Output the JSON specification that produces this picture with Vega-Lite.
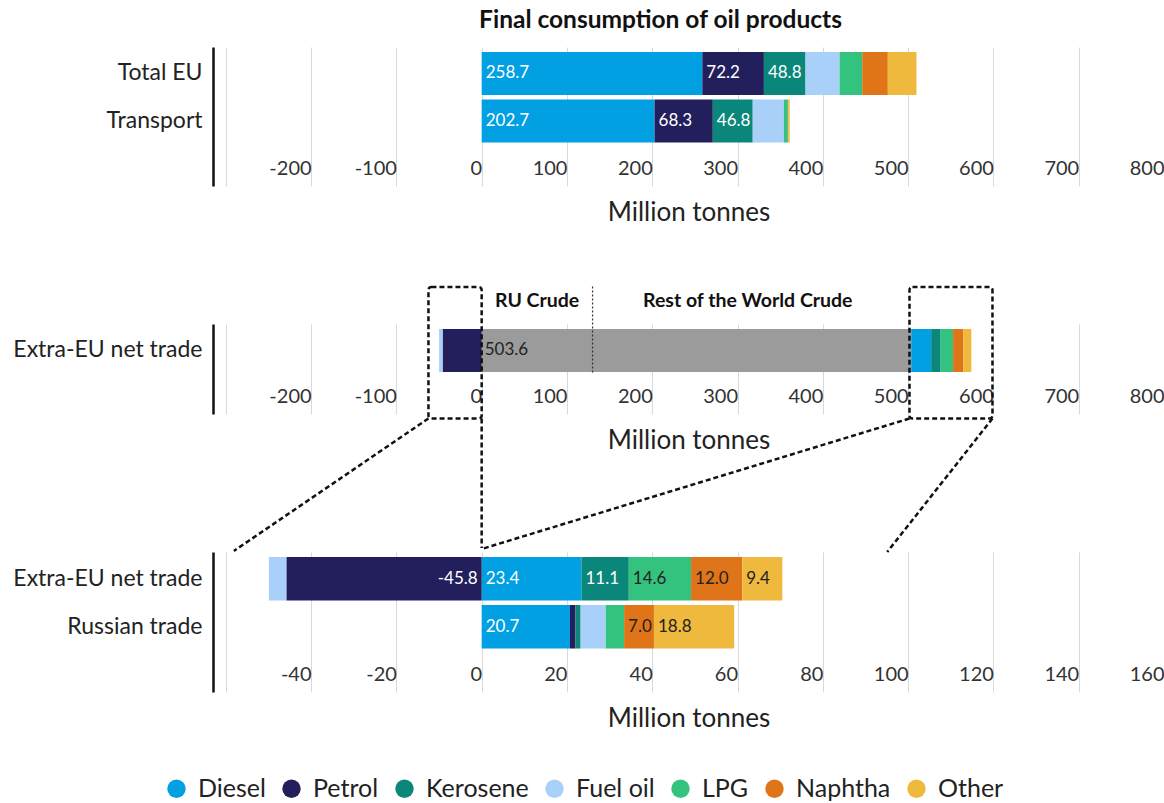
{
  "$schema": "https://vega.github.io/schema/vega-lite/v6.json",
  "autosize": {"type": "pad"},
  "padding": {"left": 12, "top": 7, "right": 0, "bottom": 0},
  "background": "white",
  "bounds": "flush",
  "spacing": 138,
  "config": {
    "font": "Lato",
    "locale": {"number": {"decimal": ".", "thousands": ",", "grouping": [3], "currency": ["$", ""], "minus": "-"}},
    "view": {"stroke": null},
    "axisX": {
      "grid": true, "gridColor": "#d9d9d9", "gridWidth": 1,
      "domain": false, "ticks": false, "tickSize": 0,
      "labelFontSize": 20, "labelColor": "#333", "labelAlign": "right", "labelBaseline": "middle",
      "labelDx": -7, "labelPadding": -18, "labelFlush": false, "labelOverlap": false, "labelBound": false,
      "titleFontSize": 26, "titleFontWeight": "normal", "titleColor": "#222", "titlePadding": 13
    },
    "axisY": {
      "domain": true, "domainColor": "#111", "domainWidth": 2.5, "ticks": false, "grid": false,
      "labelFontSize": 23, "labelColor": "#222", "labelPadding": 11, "labelLimit": 400, "title": null
    },
    "legend": {
      "symbolType": "circle", "symbolSize": 340, "symbolStrokeWidth": 0, "symbolOpacity": 1,
      "labelFontSize": 25, "labelColor": "#222", "labelOffset": 9, "columnPadding": 13
    }
  },
  "datasets": {
    "cons": [
      {"category": "Total EU", "product": "Diesel", "order": 1, "value": 258.7},
      {"category": "Total EU", "product": "Petrol", "order": 2, "value": 72.2},
      {"category": "Total EU", "product": "Kerosene", "order": 3, "value": 48.8},
      {"category": "Total EU", "product": "Fuel oil", "order": 4, "value": 39.9},
      {"category": "Total EU", "product": "LPG", "order": 5, "value": 26.6},
      {"category": "Total EU", "product": "Naphtha", "order": 6, "value": 30.0},
      {"category": "Total EU", "product": "Other", "order": 7, "value": 33.6},
      {"category": "Transport", "product": "Diesel", "order": 1, "value": 202.7},
      {"category": "Transport", "product": "Petrol", "order": 2, "value": 68.3},
      {"category": "Transport", "product": "Kerosene", "order": 3, "value": 46.8},
      {"category": "Transport", "product": "Fuel oil", "order": 4, "value": 36.5},
      {"category": "Transport", "product": "LPG", "order": 5, "value": 4.7},
      {"category": "Transport", "product": "Naphtha", "order": 6, "value": 0.6},
      {"category": "Transport", "product": "Other", "order": 7, "value": 1.6}
    ],
    "trade": [
      {"category": "Extra-EU net trade", "product": "Crude", "order": 0, "value": 503.6},
      {"category": "Extra-EU net trade", "product": "Diesel", "order": 1, "value": 23.4},
      {"category": "Extra-EU net trade", "product": "Petrol", "order": 2, "value": -45.8},
      {"category": "Extra-EU net trade", "product": "Kerosene", "order": 3, "value": 11.1},
      {"category": "Extra-EU net trade", "product": "Fuel oil", "order": 4, "value": -4.1},
      {"category": "Extra-EU net trade", "product": "LPG", "order": 5, "value": 14.6},
      {"category": "Extra-EU net trade", "product": "Naphtha", "order": 6, "value": 12.0},
      {"category": "Extra-EU net trade", "product": "Other", "order": 7, "value": 9.4},
      {"category": "Russian trade", "product": "Diesel", "order": 1, "value": 20.7},
      {"category": "Russian trade", "product": "Petrol", "order": 2, "value": 1.3},
      {"category": "Russian trade", "product": "Kerosene", "order": 3, "value": 1.2},
      {"category": "Russian trade", "product": "Fuel oil", "order": 4, "value": 5.9},
      {"category": "Russian trade", "product": "LPG", "order": 5, "value": 4.3},
      {"category": "Russian trade", "product": "Naphtha", "order": 6, "value": 7.0},
      {"category": "Russian trade", "product": "Other", "order": 7, "value": 18.8}
    ],
    "boxes": [
      {"x": -62.4, "x2": 0, "y": -0.05, "y2": 1.411},
      {"x": 501.6, "x2": 598.9, "y": -0.05, "y2": 1.411}
    ],
    "links": [
      {"x": -62.4, "x2": -290.5, "y": -0.05, "y2": -1.522},
      {"x": 0, "x2": 0, "y": -0.05, "y2": -1.489},
      {"x": 501.6, "x2": 0, "y": -0.05, "y2": -1.5},
      {"x": 598.9, "x2": 475.5, "y": -0.05, "y2": -1.533}
    ],
    "divider": [
      {"x": 130, "y": 0.461, "y2": 1.422}
    ],
    "crudeLabels": [
      {"x": 65, "y": 1.256, "text": "RU Crude"},
      {"x": 312, "y": 1.256, "text": "Rest of the World Crude"}
    ]
  },
  "vconcat": [
    {
      "width": 951, "height": 139,
      "title": {"text": "Final consumption of oil products", "fontSize": 24.5, "fontWeight": "bold", "color": "#111", "anchor": "middle", "dx": -28, "offset": 14},
      "data": {"name": "cons"},
      "transform": [{"stack": "value", "groupby": ["category"], "sort": [{"field": "order", "order": "ascending"}], "as": ["x0", "x1"]}],
      "encoding": {
        "y": {"field": "category", "type": "nominal", "sort": ["Total EU", "Transport"], "title": null,
              "scale": {"paddingInner": 0.095, "paddingOuter": 0.51, "align": 0.103}},
        "x": {"field": "x0", "type": "quantitative", "title": "Million tonnes",
              "scale": {"domain": [-315, 800], "nice": false, "zero": false},
              "axis": {"values": [-300, -200, -100, 0, 100, 200, 300, 400, 500, 600, 700, 800], "labelExpr": "datum.value < -250 ? '' : datum.label"}}
      },
      "layer": [
        {
          "mark": {"type": "bar"},
          "encoding": {
            "x2": {"field": "x1"},
            "color": {"field": "product", "type": "nominal",
                      "scale": {"domain": ["Diesel", "Petrol", "Kerosene", "Fuel oil", "LPG", "Naphtha", "Other", "Crude"],
                                "range": ["#00a0e3", "#231f5c", "#0a877a", "#a8d0f8", "#34c37e", "#df7419", "#eeb93c", "#9b9b9b"]},
                      "legend": {"values": ["Diesel", "Petrol", "Kerosene", "Fuel oil", "LPG", "Naphtha", "Other"], "title": null,
                                 "orient": "none", "direction": "horizontal", "columns": 7, "legendX": -49, "legendY": 729}}
          }
        },
        {
          "transform": [{"filter": "datum.value >= 45"}],
          "mark": {"type": "text", "align": "left", "baseline": "middle", "dx": 4, "fontSize": 17},
          "encoding": {
            "text": {"field": "value", "type": "quantitative", "format": ".1f"},
            "color": {"condition": {"test": "indexof(['Diesel','Petrol','Kerosene'], datum.product) >= 0", "value": "white"}, "value": "#222"}
          }
        }
      ]
    },
    {
      "width": 951, "height": 90,
      "layer": [
        {
          "data": {"name": "trade"},
          "transform": [
            {"filter": "datum.category == 'Extra-EU net trade'"},
            {"stack": "value", "groupby": ["category"], "sort": [{"field": "order", "order": "ascending"}], "as": ["x0", "x1"]}
          ],
          "encoding": {
            "y": {"field": "category", "type": "nominal", "title": null,
                  "scale": {"paddingInner": 0, "paddingOuter": 0.5465, "align": 0.106}},
            "x": {"field": "x0", "type": "quantitative", "title": "Million tonnes",
                  "scale": {"domain": [-315, 800], "nice": false, "zero": false},
                  "axis": {"values": [-300, -200, -100, 0, 100, 200, 300, 400, 500, 600, 700, 800], "labelExpr": "datum.value < -250 ? '' : datum.label"}}
          },
          "layer": [
            {
              "mark": {"type": "bar"},
              "encoding": {
                "x2": {"field": "x1"},
                "color": {"field": "product", "type": "nominal",
                          "scale": {"domain": ["Diesel", "Petrol", "Kerosene", "Fuel oil", "LPG", "Naphtha", "Other", "Crude"],
                                    "range": ["#00a0e3", "#231f5c", "#0a877a", "#a8d0f8", "#34c37e", "#df7419", "#eeb93c", "#9b9b9b"]},
                          "legend": {"values": ["Diesel", "Petrol", "Kerosene", "Fuel oil", "LPG", "Naphtha", "Other"], "title": null,
                                     "orient": "none", "direction": "horizontal", "columns": 7, "legendX": -49, "legendY": 729}}
              }
            },
            {
              "transform": [{"filter": "datum.product == 'Crude'"}],
              "mark": {"type": "text", "align": "left", "baseline": "middle", "dx": 3, "fontSize": 17, "color": "#222"},
              "encoding": {
                "text": {"field": "value", "type": "quantitative", "format": ".1f"}
              }
            }
          ]
        },
        {
          "layer": [
            {
              "data": {"name": "divider"},
              "mark": {"type": "rule", "strokeDash": [2, 2], "strokeWidth": 1.2, "color": "#333"},
              "encoding": {
                "x": {"field": "x", "type": "quantitative", "title": "Million tonnes", "scale": {"domain": [-315, 800], "nice": false, "zero": false}},
                "y": {"field": "y", "type": "quantitative", "scale": {"domain": [0, 1], "nice": false, "zero": false}, "axis": null},
                "y2": {"field": "y2"}
              }
            },
            {
              "data": {"name": "crudeLabels"},
              "mark": {"type": "text", "align": "center", "baseline": "middle", "fontSize": 19.5, "fontWeight": "bold", "color": "#111"},
              "encoding": {
                "x": {"field": "x", "type": "quantitative", "title": "Million tonnes", "scale": {"domain": [-315, 800], "nice": false, "zero": false}},
                "y": {"field": "y", "type": "quantitative", "scale": {"domain": [0, 1], "nice": false, "zero": false}, "axis": null},
                "text": {"field": "text", "type": "nominal"}
              }
            },
            {
              "data": {"name": "boxes"},
              "mark": {"type": "rect", "fill": "transparent", "stroke": "#111", "strokeWidth": 2.5, "strokeDash": [5, 3], "cornerRadius": 3},
              "encoding": {
                "x": {"field": "x", "type": "quantitative", "title": "Million tonnes", "scale": {"domain": [-315, 800], "nice": false, "zero": false}},
                "x2": {"field": "x2"},
                "y": {"field": "y", "type": "quantitative", "scale": {"domain": [0, 1], "nice": false, "zero": false}, "axis": null},
                "y2": {"field": "y2"}
              }
            },
            {
              "data": {"name": "links"},
              "mark": {"type": "rule", "stroke": "#111", "strokeWidth": 2.5, "strokeDash": [5, 3]},
              "encoding": {
                "x": {"field": "x", "type": "quantitative", "title": "Million tonnes", "scale": {"domain": [-315, 800], "nice": false, "zero": false}},
                "x2": {"field": "x2"},
                "y": {"field": "y", "type": "quantitative", "scale": {"domain": [0, 1], "nice": false, "zero": false}, "axis": null},
                "y2": {"field": "y2"}
              }
            }
          ]
        }
      ],
      "resolve": {"scale": {"y": "independent"}, "axis": {"y": "independent"}}
    },
    {
      "width": 951, "height": 140,
      "data": {"name": "trade"},
      "transform": [
        {"filter": "datum.product != 'Crude'"},
        {"stack": "value", "groupby": ["category"], "sort": [{"field": "order", "order": "ascending"}], "as": ["x0", "x1"]}
      ],
      "encoding": {
        "y": {"field": "category", "type": "nominal", "sort": ["Extra-EU net trade", "Russian trade"], "title": null,
              "scale": {"paddingInner": 0.094, "paddingOuter": 0.505, "align": 0.103}},
        "x": {"field": "x0", "type": "quantitative", "title": "Million tonnes",
              "scale": {"domain": [-63, 160], "nice": false, "zero": false},
              "axis": {"values": [-60, -40, -20, 0, 20, 40, 60, 80, 100, 120, 140, 160], "labelExpr": "datum.value < -50 ? '' : datum.label"}}
      },
      "layer": [
        {
          "mark": {"type": "bar"},
          "encoding": {
            "x2": {"field": "x1"},
            "color": {"field": "product", "type": "nominal",
                      "scale": {"domain": ["Diesel", "Petrol", "Kerosene", "Fuel oil", "LPG", "Naphtha", "Other", "Crude"],
                                "range": ["#00a0e3", "#231f5c", "#0a877a", "#a8d0f8", "#34c37e", "#df7419", "#eeb93c", "#9b9b9b"]},
                      "legend": {"values": ["Diesel", "Petrol", "Kerosene", "Fuel oil", "LPG", "Naphtha", "Other"], "title": null,
                                 "orient": "none", "direction": "horizontal", "columns": 7, "legendX": -49, "legendY": 729}}
          }
        },
        {
          "transform": [{"filter": "datum.value >= 6.5"}],
          "mark": {"type": "text", "align": "left", "baseline": "middle", "dx": 4, "fontSize": 17},
          "encoding": {
            "text": {"field": "value", "type": "quantitative", "format": ".1f"},
            "color": {"condition": {"test": "indexof(['Diesel','Petrol','Kerosene'], datum.product) >= 0", "value": "white"}, "value": "#222"}
          }
        },
        {
          "transform": [{"filter": "datum.value <= -6.5"}],
          "mark": {"type": "text", "align": "right", "baseline": "middle", "dx": -4, "fontSize": 17},
          "encoding": {
            "text": {"field": "value", "type": "quantitative", "format": ".1f"},
            "color": {"condition": {"test": "indexof(['Diesel','Petrol','Kerosene'], datum.product) >= 0", "value": "white"}, "value": "#222"}
          }
        }
      ]
    }
  ]
}
